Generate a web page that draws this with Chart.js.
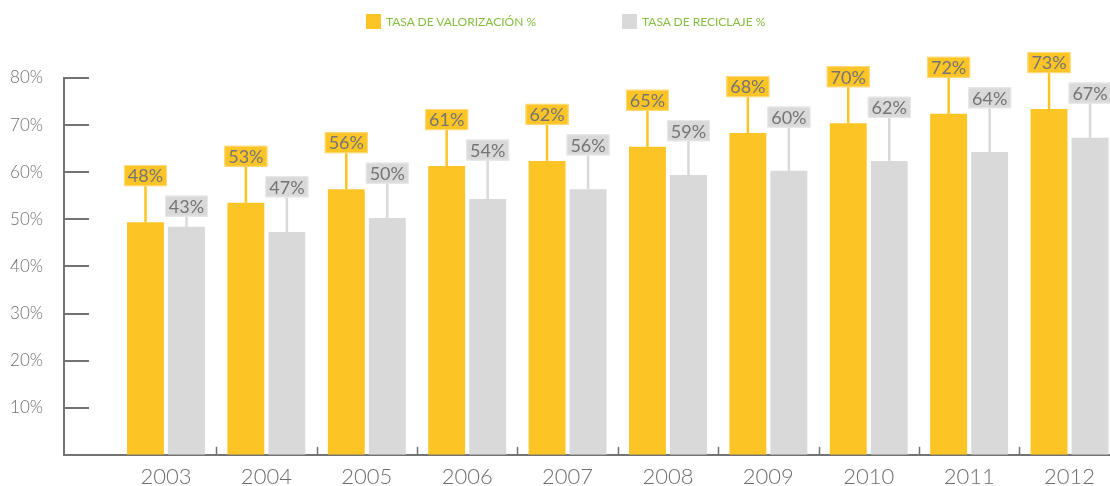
<!DOCTYPE html>
<html lang="es">
<head>
<meta charset="utf-8">
<title>Tasa de valorización y reciclaje</title>
<script src="https://cdn.jsdelivr.net/npm/chart.js@4.4.1/dist/chart.umd.min.js"></script>
<style>
    html, body { margin: 0; padding: 0; background: #fff; }
    #wrap { position: relative; width: 1110px; height: 486px; }
    #legend {
        position: absolute; top: 14px; left: 366px;
        display: flex; font-family: Lato, sans-serif; font-size: 12px; color: #86bc3f;
    }
    .item { display: flex; align-items: center; margin-right: 86px; height: 15px; }
    .swatch { width: 15px; height: 15px; margin-right: 5px; }
</style>
</head>
<body>
<div id="wrap">
    <div id="legend"></div>
    <canvas id="chart"></canvas>
</div>
<script>
const years = ['2003', '2004', '2005', '2006', '2007', '2008', '2009', '2010', '2011', '2012'];
// bar heights as drawn in the picture (%)
const valorizacion = [49.4, 53.5, 56.4, 61.3, 62.4, 65.4, 68.3, 70.4, 72.4, 73.4];
const reciclaje = [48.4, 47.3, 50.3, 54.3, 56.4, 59.4, 60.3, 62.4, 64.3, 67.3];
// printed values in the label boxes
const valorizacionLabels = [48, 53, 56, 61, 62, 65, 68, 70, 72, 73];
const reciclajeLabels = [43, 47, 50, 54, 56, 59, 60, 62, 64, 67];
const yTicks = [10, 20, 30, 40, 50, 60, 70, 80];

const YELLOW = '#FDC426';
const GREY = '#D9D9D9';
const AXIS = '#737373';
const TEXT = '#747474';

const series = [
    { label: 'TASA DE VALORIZACIÓN %', color: YELLOW },
    { label: 'TASA DE RECICLAJE %', color: GREY }
];

// html legend
const legend = document.getElementById('legend');
series.forEach(s => {
    const item = document.createElement('div');
    item.className = 'item';
    const sw = document.createElement('span');
    sw.className = 'swatch';
    sw.style.background = s.color;
    const txt = document.createElement('span');
    txt.textContent = s.label;
    item.appendChild(sw);
    item.appendChild(txt);
    legend.appendChild(item);
});

// short tick marks on the axes
const tickMarks = {
    id: 'tickMarks',
    afterDraw(chart) {
        const { ctx, chartArea, scales: { x, y } } = chart;
        ctx.save();
        ctx.strokeStyle = AXIS;
        ctx.lineWidth = 2;
        yTicks.forEach(v => {
            const py = Math.round(y.getPixelForValue(v));
            ctx.beginPath();
            ctx.moveTo(chartArea.left, py);
            ctx.lineTo(chartArea.left + 25, py);
            ctx.stroke();
        });
        ctx.lineWidth = 1.5;
        years.slice(1).forEach((_, i) => {
            const px = Math.round(x.getPixelForValue(i + 0.5)) + 0.5;
            ctx.beginPath();
            ctx.moveTo(px, chartArea.bottom);
            ctx.lineTo(px, chartArea.bottom - 8);
            ctx.stroke();
        });
        ctx.restore();
    }
};

// value boxes with connector lines
const valueBoxes = {
    id: 'valueBoxes',
    afterDatasetsDraw(chart) {
        const ctx = chart.ctx;
        const m0 = chart.getDatasetMeta(0).data;
        const m1 = chart.getDatasetMeta(1).data;
        const boxW = 43, boxH = 21;
        ctx.save();
        ctx.font = '18px Lato, sans-serif';
        ctx.textAlign = 'center';
        ctx.textBaseline = 'middle';
        years.forEach((_, i) => {
            const topY = m0[i].y - 57;
            const items = [
                { bar: m0[i], top: topY, fill: YELLOW, edge: '#fedb7c', text: valorizacionLabels[i] + '%' },
                { bar: m1[i], top: topY + 30.5, fill: GREY, edge: '#e9e9e9', text: reciclajeLabels[i] + '%' }
            ];
            items.forEach(it => {
                const cx = it.bar.x;
                ctx.strokeStyle = it.fill;
                ctx.lineWidth = 2.5;
                ctx.beginPath();
                ctx.moveTo(cx, it.top + boxH);
                ctx.lineTo(cx, it.bar.y);
                ctx.stroke();
                ctx.fillStyle = it.fill;
                ctx.fillRect(cx - boxW / 2, it.top, boxW, boxH);
                ctx.strokeStyle = it.edge;
                ctx.lineWidth = 1;
                ctx.strokeRect(cx - boxW / 2 + 0.5, it.top + 0.5, boxW - 1, boxH - 1);
                ctx.fillStyle = TEXT;
                ctx.fillText(it.text, cx, it.top + boxH / 2 + 1);
            });
        });
        ctx.restore();
    }
};

const ctx = document.getElementById('chart').getContext('2d');
const myChart = new Chart(ctx, {
    type: 'bar',
    data: {
        datasets: [
            {
                label: series[0].label,
                data: years.map((_, i) => ({ x: i, y: valorizacion[i] })),
                backgroundColor: YELLOW
            },
            {
                label: series[1].label,
                data: years.map((_, i) => ({ x: i, y: reciclaje[i] })),
                backgroundColor: GREY
            }
        ]
    },
    options: {
        responsive: true,
        maintainAspectRatio: false,
        animation: false,
        devicePixelRatio: 1,
        barPercentage: 0.9,
        categoryPercentage: 0.817,
        layout: { padding: { top: 78, right: 0, left: 0, bottom: 0 } },
        plugins: {
            legend: { display: false },
            tooltip: { enabled: false }
        },
        scales: {
            x: {
                type: 'linear',
                offset: false,
                min: -1.016,
                max: 9.403,
                afterBuildTicks: scale => { scale.ticks = years.map((_, i) => ({ value: i })); },
                afterFit: scale => { scale.height = 31; },
                ticks: {
                    callback: (v, i) => years[i],
                    font: { family: 'Lato', size: 22, weight: '300' },
                    color: '#6e6e6e',
                    padding: 9,
                    autoSkip: false,
                    maxRotation: 0
                },
                grid: { display: false, drawTicks: false, offset: false },
                border: { color: AXIS, width: 2 }
            },
            y: {
                min: 0,
                max: 80,
                afterBuildTicks: scale => { scale.ticks = yTicks.map(v => ({ value: v })); },
                afterFit: scale => { scale.width = 64; },
                ticks: {
                    callback: v => v + '%',
                    font: { family: 'Lato', size: 17, weight: '300' },
                    color: '#6e6e6e',
                    padding: 21
                },
                grid: { display: false, drawTicks: false },
                border: { color: AXIS, width: 2 }
            }
        }
    },
    plugins: [tickMarks, valueBoxes]
});
</script>
</body>
</html>
